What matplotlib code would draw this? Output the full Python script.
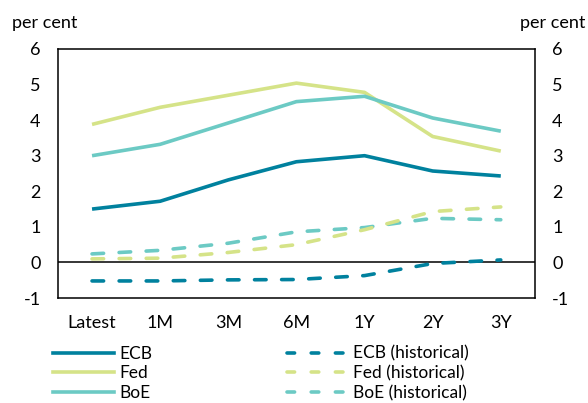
import matplotlib
matplotlib.use("Agg")
import matplotlib.pyplot as plt
from matplotlib.lines import Line2D

plt.rcParams['font.family'] = ['Lato', 'DejaVu Sans']
plt.rcParams['font.size'] = 13
plt.rcParams['axes.unicode_minus'] = False

horizons = ["Latest", "1M", "3M", "6M", "1Y", "2Y", "3Y"]

ecb = [1.50, 1.72, 2.32, 2.83, 3.00, 2.57, 2.43]
fed = [3.88, 4.36, 4.70, 5.04, 4.78, 3.54, 3.13]
boe = [3.00, 3.32, 3.92, 4.52, 4.67, 4.06, 3.69]

ecb_hist = [-0.52, -0.52, -0.49, -0.48, -0.37, -0.03, 0.07]
fed_hist = [0.10, 0.12, 0.28, 0.50, 0.92, 1.43, 1.56]
boe_hist = [0.24, 0.34, 0.54, 0.86, 0.98, 1.24, 1.20]

c_ecb = "#00819e"
c_fed = "#d5e388"
c_boe = "#6ccac4"

fig = plt.figure(figsize=(5.88, 4.03), dpi=100)
ax = fig.add_axes([0.0986, 0.2605, 0.811, 0.618])

x = list(range(len(horizons)))
lw = 2.6
dash = (0, (3.2, 4.3))

ax.plot(x, ecb, color=c_ecb, lw=lw, solid_capstyle='butt')
ax.plot(x, fed, color=c_fed, lw=lw, solid_capstyle='butt')
ax.plot(x, boe, color=c_boe, lw=lw, solid_capstyle='butt')
ax.plot(x, boe_hist, color=c_boe, lw=lw, linestyle=dash, dash_capstyle='round')
ax.plot(x, fed_hist, color=c_fed, lw=lw, linestyle=dash, dash_capstyle='round')
ax.plot(x, ecb_hist, color=c_ecb, lw=lw, linestyle=dash, dash_capstyle='round')

ax.axhline(0, color='black', lw=1.1, zorder=1)

ax.set_xlim(-0.5, 6.5)
ax.set_ylim(-1, 6)
ax.set_xticks(x)
ax.set_xticklabels(horizons)
ax.set_yticks(range(-1, 7))
ax.tick_params(length=0, pad=12)
ax.tick_params(axis='y', labelright=True, pad=12.5)
for s in ax.spines.values():
    s.set_linewidth(1.1)

fig.text(0.02, 0.9305, "per cent", ha='left', va='baseline')
fig.text(0.995, 0.9305, "per cent", ha='right', va='baseline')

h1 = [Line2D([], [], color=c, lw=lw) for c in (c_ecb, c_fed, c_boe)]
h2 = [Line2D([], [], color=c, lw=lw, linestyle=(0, (2.1, 4.6)), dash_capstyle='round')
      for c in (c_ecb, c_fed, c_boe)]
fig.legend(h1, ["ECB", "Fed", "BoE"], loc='upper left', bbox_to_anchor=(0.09, 0.142),
           frameon=False, fontsize=12.5, handlelength=3.5, handletextpad=0.3, labelspacing=0.2,
           borderpad=0, borderaxespad=0)
fig.legend(h2, ["ECB (historical)", "Fed (historical)", "BoE (historical)"], loc='upper left',
           bbox_to_anchor=(0.488, 0.142), frameon=False, fontsize=12.5, handlelength=3.5,
           handletextpad=0.3, labelspacing=0.2, borderpad=0, borderaxespad=0)

fig.savefig("out.png", dpi=100)
